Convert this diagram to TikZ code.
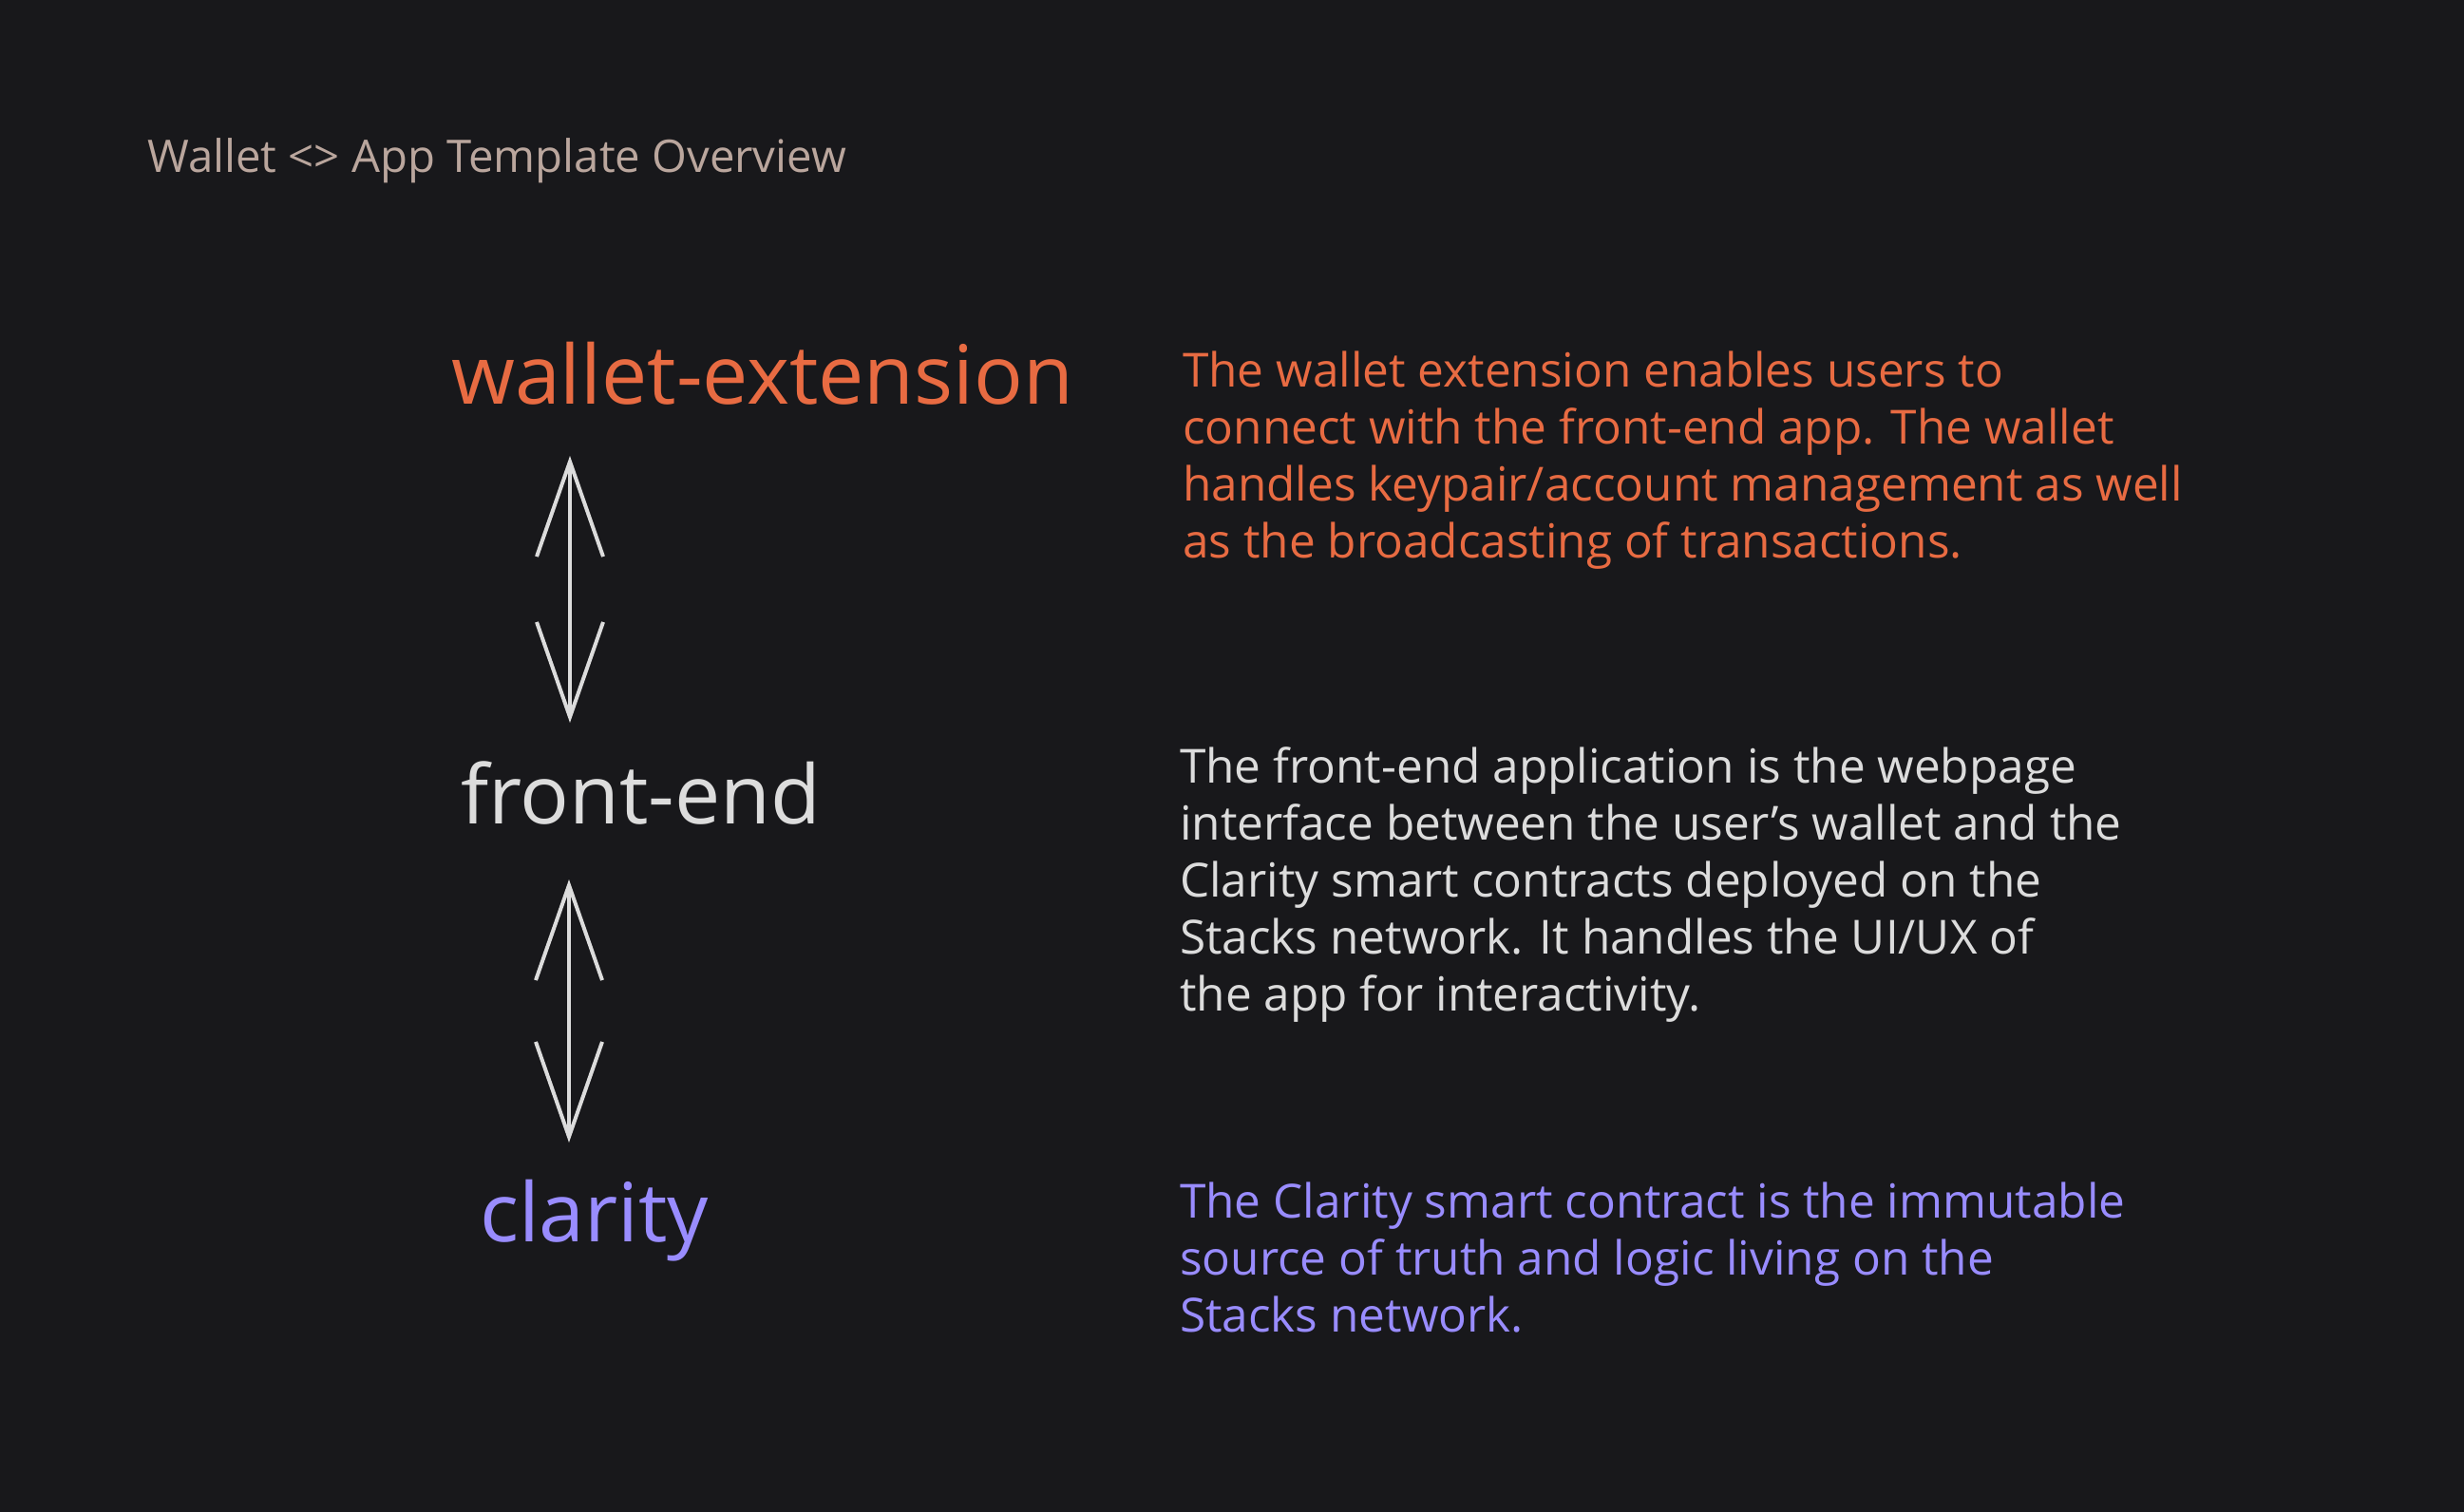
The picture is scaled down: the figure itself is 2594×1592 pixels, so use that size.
\documentclass[tikz,border=0pt]{standalone}
\usepackage{fontspec}
\setmainfont{Open Sans}
\usepackage{tikz}
\usetikzlibrary{arrows.meta}
\usepackage{xcolor}
\definecolor{bgdark}{RGB}{24,24,27}
\definecolor{wxorange}{RGB}{232,107,66}
\definecolor{fegrey}{RGB}{220,220,220}
\definecolor{clpurple}{RGB}{153,140,255}
\definecolor{ttlbrown}{RGB}{186,166,157}
\tikzstyle{duplex} = [line width=4pt,line cap=round,line join=round,color=fegrey,>={Straight Barb[length=100pt,width=70pt]},<->]
\tikzstyle{bigname} = [anchor=base west,inner sep=0pt,font=\fontsize{86}{100}\selectfont]
\tikzstyle{body} = [anchor=base west,inner sep=0pt,font=\fontsize{49.5}{60}\selectfont]

\begin{document}
\begin{tikzpicture}[x=1pt,y=-1pt]
\fill[bgdark] (0,0) rectangle (2594,1592);

% Title
\node[anchor=base west,inner sep=0pt,ttlbrown,font=\fontsize{47.3}{56}\selectfont] (title) at (155,182) {Wallet <> App Template Overview};

% Layers
\node[bigname,wxorange] (wext) at (475,425) {wallet-extension};
\node[bigname,fegrey] (fend) at (485,867) {front-end};
\node[bigname,clpurple] (clar) at (505,1307) {clarity};

% Double arrows between layers
\coordinate (a1top) at (600,480);
\coordinate (a1bot) at (600,761);
\coordinate (a2top) at (599,926);
\coordinate (a2bot) at (599,1203);
\draw[duplex] (a1top) -- (a1bot);
\draw[duplex] (a2top) -- (a2bot);

% Descriptions
\node[body,wxorange] (wx1) at (1245,407) {The wallet extension enables users to};
\node[body,wxorange] (wx2) at (1245,467) {connect with the front-end app. The wallet};
\node[body,wxorange] (wx3) at (1245,527) {handles keypair/account management as well};
\node[body,wxorange] (wx4) at (1245,587) {as the broadcasting of transactions.};

\node[body,fegrey] (fe1) at (1242,824) {The front-end application is the webpage};
\node[body,fegrey] (fe2) at (1242,884) {interface between the user’s wallet and the};
\node[body,fegrey] (fe3) at (1242,944) {Clarity smart contracts deployed on the};
\node[body,fegrey] (fe4) at (1242,1004) {Stacks network. It handles the UI/UX of};
\node[body,fegrey] (fe5) at (1242,1064) {the app for interactivity.};

\node[body,clpurple] (cl1) at (1242,1282) {The Clarity smart contract is the immutable};
\node[body,clpurple] (cl2) at (1242,1342) {source of truth and logic living on the};
\node[body,clpurple] (cl3) at (1242,1402) {Stacks network.};
\end{tikzpicture}
\end{document}
